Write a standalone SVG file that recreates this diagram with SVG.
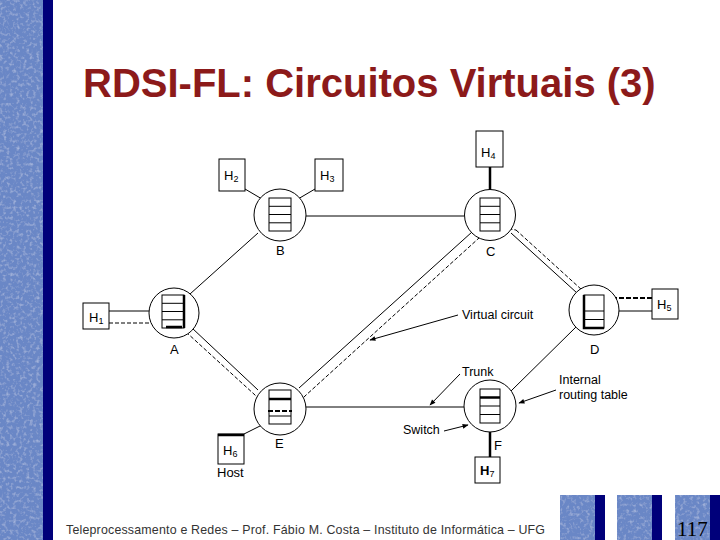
<svg xmlns="http://www.w3.org/2000/svg" width="720" height="540" viewBox="0 0 720 540">
<defs>
<filter id="tex" x="0" y="0" width="100%" height="100%">
<feTurbulence type="fractalNoise" baseFrequency="0.3" numOctaves="2" seed="3" result="n"/>
<feColorMatrix in="n" type="matrix" values="0 0 0 0 0.75  0 0 0 0 0.82  0 0 0 0 0.95  0 0 0 0.9 -0.45" result="w"/>
<feComposite in="w" in2="SourceGraphic" operator="in" result="wc"/>
<feMerge><feMergeNode in="SourceGraphic"/><feMergeNode in="wc"/></feMerge>
</filter>
<marker id="ah" viewBox="0 0 10 10" refX="9" refY="5" markerWidth="9" markerHeight="6" orient="auto" markerUnits="userSpaceOnUse">
<path d="M0,1 L10,5 L0,9 z" fill="#000"/>
</marker>
</defs>
<style>
.sw{fill:#fff;stroke:#000;stroke-width:1}
.tb{fill:#fff;stroke:#000;stroke-width:1}
.hb{fill:#fff;stroke:#000;stroke-width:1}
.ln{stroke:#000;stroke-width:1;fill:none}
.thk{stroke:#000;stroke-width:2.5;fill:none}
.ds{stroke:#000;stroke-width:1;stroke-dasharray:4 2;fill:none}
.dsk{stroke:#000;stroke-width:2;stroke-dasharray:5 2;fill:none}
.lb{font-family:"Liberation Sans",Arial,sans-serif;font-size:13px;fill:#000}
.hl{font-family:"Liberation Sans",Arial,sans-serif;font-size:13px;fill:#000}
.sub{font-size:9px}
.an{font-family:"Liberation Sans",Arial,sans-serif;font-size:12.5px;fill:#000}
.tx{fill:#6a87c6}
.nv{fill:#00007a}
</style>
<rect width="720" height="540" fill="#fff"/>
<rect class="tx" x="0" y="0" width="44" height="540" filter="url(#tex)"/>
<rect class="nv" x="43" y="0" width="10" height="540"/>
<text x="83" y="97" font-family="'Liberation Sans',Arial,sans-serif" font-size="40" font-weight="bold" fill="#8c1a1a">RDSI-FL: Circuitos Virtuais (3)</text>

<g id="connectors">
<line class="ln" x1="245" y1="189" x2="262" y2="199"/>
<line class="ln" x1="315" y1="189" x2="298" y2="199"/>
<line class="ln" x1="306" y1="216" x2="464" y2="216"/>
<line class="ln" x1="258" y1="233" x2="190" y2="294"/>
<line class="thk" x1="490" y1="167" x2="490" y2="190"/>
<line class="ln" x1="109" y1="311" x2="149" y2="311"/>
<path class="ds" d="M109,323 L178,323 L186,332"/>
<line class="ln" x1="192" y1="328" x2="258" y2="390"/>
<path class="ds" d="M186,332 L255,395 L268,410"/>
<line class="ln" x1="472" y1="232" x2="299" y2="388"/>
<path class="ds" d="M292,411 L305,396 L479,238 L488,229 L510,229 L516,230"/>
<line class="ln" x1="511" y1="233" x2="577" y2="293"/>
<path class="ds" d="M516,230 L582,290 L586,297"/>
<line class="ln" x1="619" y1="311" x2="652" y2="311"/>
<path class="dsk" d="M584,298 L652,298"/>
<line class="ln" x1="576" y1="327" x2="511" y2="391"/>
<line class="ln" x1="306" y1="407" x2="464" y2="407"/>
<line class="ln" x1="244" y1="434" x2="262" y2="425"/>
<line class="thk" x1="490" y1="432" x2="490" y2="457"/>
<line class="ln" x1="458" y1="315" x2="370" y2="340" marker-end="url(#ah)"/>
<line class="ln" x1="460" y1="374" x2="430" y2="405" marker-end="url(#ah)"/>
<line class="ln" x1="556" y1="390" x2="519" y2="403" marker-end="url(#ah)"/>
<line class="ln" x1="444" y1="431" x2="468" y2="425" marker-end="url(#ah)"/>
</g>

<g id="H1"><rect class="hb" x="83" y="303" width="26" height="26"/><text class="hl" x="89" y="322">H<tspan class="sub" dy="2">1</tspan></text></g>
<g id="H2"><rect class="hb" x="219" y="159" width="26" height="32"/><text class="hl" x="224" y="180">H<tspan class="sub" dy="2">2</tspan></text></g>
<g id="H3"><rect class="hb" x="315" y="159" width="28" height="32"/><text class="hl" x="320" y="180">H<tspan class="sub" dy="2">3</tspan></text></g>
<g id="H4"><rect class="hb" x="476" y="131" width="27" height="36"/><text class="hl" x="481" y="157">H<tspan class="sub" dy="2">4</tspan></text></g>
<g id="H5"><rect class="hb" x="652" y="289" width="26" height="30"/><text class="hl" x="657" y="309">H<tspan class="sub" dy="2">5</tspan></text></g>
<g id="H6"><rect class="hb" x="218" y="434" width="26" height="30"/><path class="thk" d="M218,435 L244,435"/><text class="hl" x="223" y="455">H<tspan class="sub" dy="2">6</tspan></text><text class="lb" x="217" y="477">Host</text></g>
<g id="H7"><rect class="hb" x="475" y="457" width="25" height="26"/><text class="hl" x="480" y="475" font-weight="bold">H<tspan class="sub" dy="2" font-weight="normal">7</tspan></text></g>

<g id="A">
<circle class="sw" cx="174" cy="313" r="25"/>
<rect class="tb" x="162" y="295" width="22" height="33"/>
<path class="ln" d="M162,303.3 H184 M162,311.5 H184 M162,319.8 H184"/>
<path class="thk" d="M184,295 V328 M166,327 H182" stroke-width="2"/>
<text class="lb" x="170" y="354">A</text>
</g>
<g id="B">
<circle class="sw" cx="280" cy="215" r="26"/>
<rect class="tb" x="269" y="198" width="22" height="33"/>
<path class="ln" d="M269,206.3 H291 M269,214.5 H291 M269,222.8 H291"/>
<text class="lb" x="276" y="255">B</text>
</g>
<g id="C">
<circle class="sw" cx="490" cy="215" r="25.5"/>
<rect class="tb" x="480" y="198" width="20" height="33"/>
<path class="ln" d="M480,206.3 H500 M480,214.5 H500 M480,222.8 H500"/>
<text class="lb" x="486" y="256">C</text>
</g>
<g id="D">
<circle class="sw" cx="594" cy="310" r="25"/>
<rect class="tb" x="584" y="295" width="20" height="33"/>
<path class="ln" d="M584,311 H604 M584,319.5 H604"/>
<path class="thk" d="M584,295 V328 H604" stroke-width="2"/>
<text class="lb" x="590" y="354">D</text>
</g>
<g id="E">
<circle class="sw" cx="280" cy="409" r="26"/>
<rect class="tb" x="269" y="390" width="22" height="34"/>
<path class="ln" d="M269,398.5 H291 M269,416 H291"/>
<path class="thk" d="M269,399 H291" stroke-width="2.5"/>
<path class="dsk" d="M268,411 H292"/>
<text class="lb" x="275" y="448">E</text>
</g>
<g id="F">
<circle class="sw" cx="490" cy="406" r="26"/>
<rect class="tb" x="480" y="389" width="20" height="34"/>
<path class="ln" d="M480,406 H500 M480,414.5 H500"/>
<path class="thk" d="M480,397.5 H500" stroke-width="2.5"/>
<text class="lb" x="494" y="450">F</text>
</g>

<text class="an" x="462" y="319">Virtual circuit</text>
<text class="an" x="462" y="376">Trunk</text>
<text class="an" x="559" y="384">Internal</text>
<text class="an" x="559" y="399">routing table</text>
<text class="an" x="403" y="434">Switch</text>

<text x="66" y="534" font-family="'Liberation Sans',Arial,sans-serif" font-size="12.4" fill="#333" textLength="479" lengthAdjust="spacing">Teleprocessamento e Redes – Prof. Fábio M. Costa – Instituto de Informática – UFG</text>
<rect class="tx" x="560" y="495" width="36" height="45" filter="url(#tex)"/>
<rect class="nv" x="595" y="495" width="10" height="45"/>
<rect class="tx" x="617" y="495" width="36" height="45" filter="url(#tex)"/>
<rect class="nv" x="652" y="495" width="10" height="45"/>
<rect class="tx" x="675" y="495" width="36" height="45" filter="url(#tex)"/>
<rect class="nv" x="710" y="495" width="10" height="45"/>
<text x="677" y="536" font-family="'Liberation Serif','Times New Roman',serif" font-size="21" fill="#000">117</text>
</svg>
